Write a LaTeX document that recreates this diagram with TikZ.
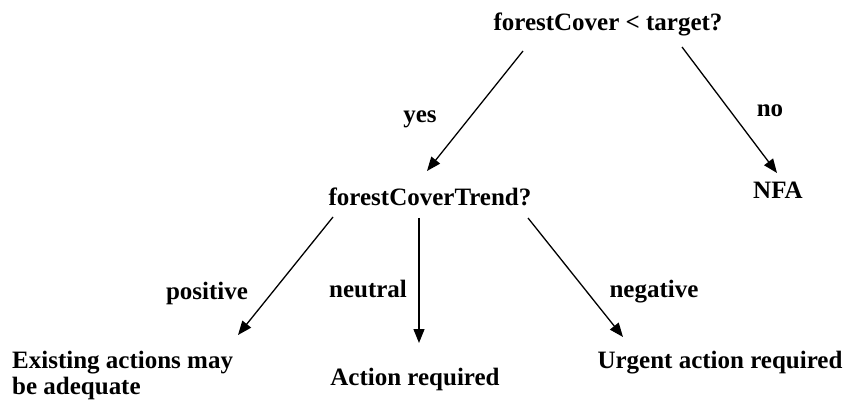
\documentclass[tikz,border=0pt]{standalone}
\usepackage{fontspec}
\setmainfont{Liberation Serif}
\usetikzlibrary{arrows.meta}
\begin{document}
\begin{tikzpicture}[x=1pt,y=-1pt,
  lbl/.style={font=\fontsize{25}{26}\selectfont\bfseries, inner sep=0pt, anchor=base},
  arr/.style={line width=1.3pt, -{Triangle[length=14pt,width=11pt]}}]
\useasboundingbox[fill=white] (0,0) rectangle (847,401);
\node[lbl] (top) at (608,31) {forestCover < target?};
\node[lbl] (trend) at (430,206) {forestCoverTrend?};
\node[lbl] (nfa) at (778,199) {NFA};
\node[lbl] (yes) at (420,123) {yes};
\node[lbl] (no) at (770,117) {no};
\node[lbl] (pos) at (207,299) {positive};
\node[lbl] (neu) at (368,298) {neutral};
\node[lbl] (neg) at (654,297) {negative};
\node[lbl, anchor=base west, align=left] (exist) at (12,394) {Existing actions may\\be adequate};
\node[lbl] (act) at (415,385) {Action required};
\node[lbl] (urg) at (720,368) {Urgent action required};
\coordinate (ys) at (523,51);
\coordinate (ye) at (427,171);
\coordinate (ns) at (682,47);
\coordinate (ne) at (777,173);
\coordinate (ps) at (333,217);
\coordinate (pe) at (238,335);
\coordinate (us) at (419,218);
\coordinate (ue) at (419,343);
\coordinate (gs) at (528,218);
\coordinate (ge) at (623,337);
\draw[arr] (ys) -- (ye);
\draw[arr] (ns) -- (ne);
\draw[arr] (ps) -- (pe);
\draw[arr] (us) -- (ue);
\draw[arr] (gs) -- (ge);
\end{tikzpicture}
\end{document}
